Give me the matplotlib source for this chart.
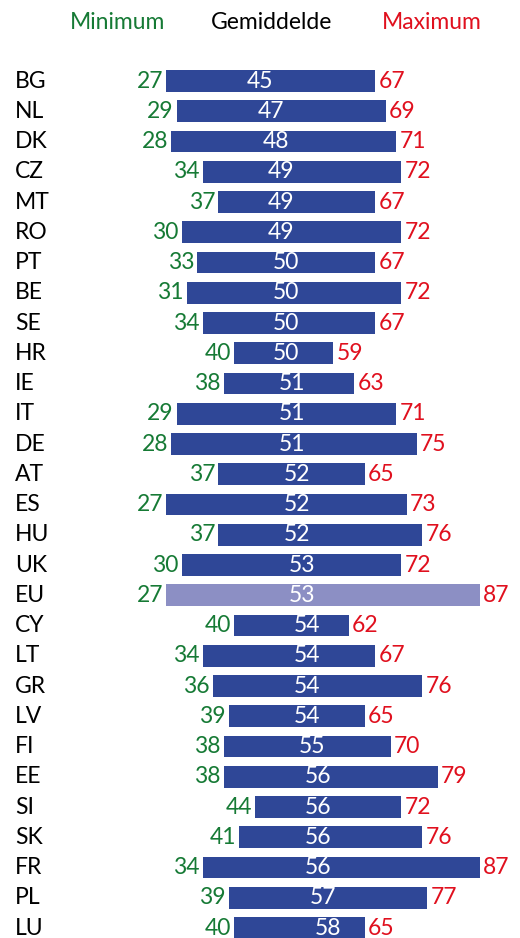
import matplotlib.pyplot as plt

countries = ["BG", "NL", "DK", "CZ", "MT", "RO", "PT", "BE", "SE", "HR",
             "IE", "IT", "DE", "AT", "ES", "HU", "UK", "EU", "CY", "LT",
             "GR", "LV", "FI", "EE", "SI", "SK", "FR", "PL", "LU"]
minimum = [27, 29, 28, 34, 37, 30, 33, 31, 34, 40,
           38, 29, 28, 37, 27, 37, 30, 27, 40, 34,
           36, 39, 38, 38, 44, 41, 34, 39, 40]
average = [45, 47, 48, 49, 49, 49, 50, 50, 50, 50,
           51, 51, 51, 52, 52, 52, 53, 53, 54, 54,
           54, 54, 55, 56, 56, 56, 56, 57, 58]
maximum = [67, 69, 71, 72, 67, 72, 67, 72, 67, 59,
           63, 71, 75, 65, 73, 76, 72, 87, 62, 67,
           76, 65, 70, 79, 72, 76, 87, 77, 65]

plt.rcParams["font.family"] = ["Lato", "DejaVu Sans"]

blue = "#2f4797"
eu_blue = "#8c8fc4"
green = "#167a35"
red = "#e0101e"

fig = plt.figure(figsize=(5.2, 9.38), dpi=100)
ax = fig.add_axes([0, 0, 1, 1])
ax.set_xlim(-4.78, 94.7)
ax.set_ylim(28.33, -2.68)
ax.axis("off")

fs = 16.5
for i, c in enumerate(countries):
    col = eu_blue if c == "EU" else blue
    ax.barh(i, maximum[i] - minimum[i], left=minimum[i], height=0.72, color=col)
    ax.text(-1.9, i, c, ha="left", va="center", fontsize=fs, color="black")
    ax.text(minimum[i] - 0.6, i, str(minimum[i]), ha="right", va="center", fontsize=fs, color=green)
    ax.text(maximum[i] + 0.6, i, str(maximum[i]), ha="left", va="center", fontsize=fs, color=red)
    # average label sits at its own value on the axis
    ax.text(average[i], i, str(average[i]), ha="center", va="center",
            fontsize=fs, color="white")

ax.text(17.8, -1.95, "Minimum", ha="center", va="center", fontsize=fs, color=green)
ax.text(47.1, -1.95, "Gemiddelde", ha="center", va="center", fontsize=fs, color="black")
ax.text(77.9, -1.95, "Maximum", ha="center", va="center", fontsize=fs, color=red)

fig.savefig("out.png", dpi=100)
